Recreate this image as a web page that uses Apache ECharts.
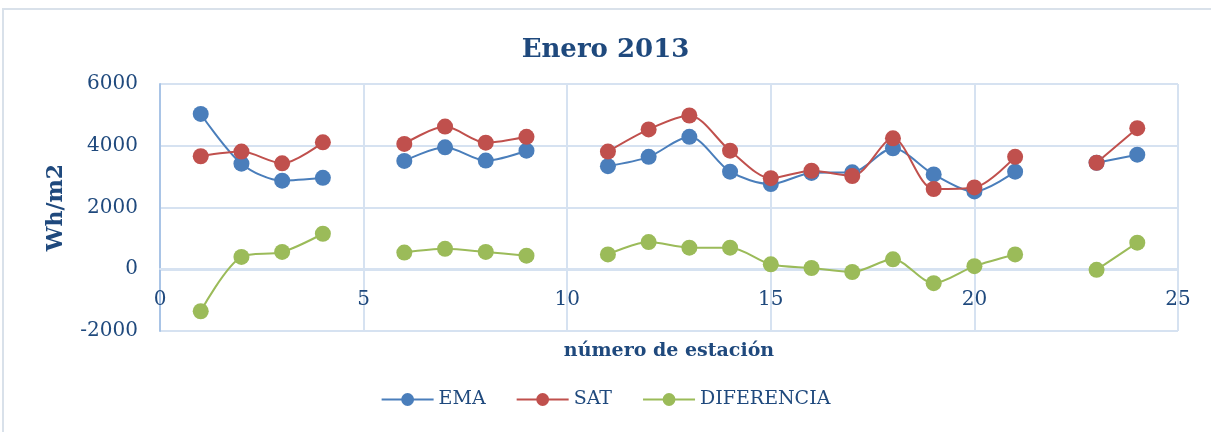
<!DOCTYPE html>
<html lang="es">
<head>
<meta charset="UTF-8">
<title>Enero 2013</title>
<script src="https://cdn.jsdelivr.net/npm/echarts@6/dist/echarts.min.js"></script>
<style>
    html, body { margin: 0; padding: 0; background: #fff; }
    #main { width: 1211px; height: 432px; }
</style>
</head>
<body>
<div id="main"></div>
<script>
    // número de estación (5, 10 y 22 sin datos)
    const estaciones = [1, 2, 3, 4, 5, 6, 7, 8, 9, 10, 11, 12, 13, 14, 15, 16, 17, 18, 19, 20, 21, 22, 23, 24];
    const ema = [5030, 3420, 2870, 2960, null, 3510, 3950, 3520, 3840, null, 3340, 3640, 4290, 3160, 2760, 3120, 3140, 3920, 3070, 2520, 3160, null, 3450, 3710];
    const sat = [3660, 3810, 3430, 4110, null, 4060, 4620, 4100, 4290, null, 3810, 4530, 4980, 3840, 2950, 3190, 3020, 4240, 2600, 2650, 3640, null, 3450, 4570];
    const diferencia = [-1360, 400, 560, 1150, null, 540, 660, 560, 440, null, 480, 880, 700, 700, 160, 40, -90, 320, -450, 100, 480, null, -20, 860];

    const azul = '#1f497d';
    const rejilla = '#d6e2f1';

    function pares(vals) {
        return estaciones.map(function (e, i) { return [e, vals[i]]; });
    }

    function serie(nombre, color, vals) {
        return {
            name: nombre,
            type: 'line',
            smooth: 0.3,
            connectNulls: false,
            symbol: 'circle',
            symbolSize: 16,
            lineStyle: { color: color, width: 2 },
            itemStyle: { color: color },
            data: pares(vals)
        };
    }

    let chart = echarts.init(document.getElementById('main'));
    let option = {
        animation: false,
        textStyle: { fontFamily: 'DejaVu Serif', color: azul },
        graphic: [{
            type: 'rect',
            shape: { x: 3, y: 9, width: 1230, height: 440 },
            style: { fill: 'none', stroke: '#d9e1ea', lineWidth: 2 },
            silent: true
        }],
        title: {
            text: 'Enero 2013',
            left: 'center',
            top: 32,
            textStyle: { fontFamily: 'DejaVu Serif', fontWeight: 'bold', fontSize: 26, color: azul }
        },
        grid: { left: 160, right: 33, top: 84, bottom: 101 },
        legend: {
            bottom: 18,
            left: 'center',
            itemWidth: 52,
            itemHeight: 16,
            itemGap: 30,
            textStyle: { fontFamily: 'DejaVu Serif', fontSize: 19, color: azul },
            data: ['EMA', 'SAT', 'DIFERENCIA']
        },
        xAxis: {
            type: 'value',
            min: 0,
            max: 25,
            interval: 5,
            // el eje corta en y = 0 (62 px por encima del borde inferior)
            offset: -62,
            name: 'número de estación',
            nameLocation: 'middle',
            nameGap: 73,
            nameTextStyle: { fontFamily: 'DejaVu Serif', fontWeight: 'bold', fontSize: 19, color: azul },
            axisLine: { onZero: false, lineStyle: { color: rejilla, width: 2 } },
            axisTick: { show: false },
            axisLabel: { fontSize: 20, color: azul, margin: 21 },
            splitLine: { show: true, lineStyle: { color: rejilla, width: 2 } }
        },
        yAxis: {
            type: 'value',
            min: -2000,
            max: 6000,
            interval: 2000,
            name: 'Wh/m2',
            nameLocation: 'middle',
            nameGap: 93,
            nameTextStyle: { fontFamily: 'DejaVu Serif', fontWeight: 'bold', fontSize: 22, color: azul },
            axisLine: { show: true, onZero: false, lineStyle: { color: '#a9c4e6', width: 2 } },
            axisTick: { show: false },
            axisLabel: { fontSize: 20, color: azul, margin: 22, formatter: function (v) { return String(v); } },
            splitLine: { show: true, lineStyle: { color: rejilla, width: 2 } }
        },
        series: [
            serie('EMA', '#4a7ebb', ema),
            serie('SAT', '#c0504d', sat),
            serie('DIFERENCIA', '#9bbb59', diferencia)
        ]
    };
    chart.setOption(option);
</script>
</body>
</html>
